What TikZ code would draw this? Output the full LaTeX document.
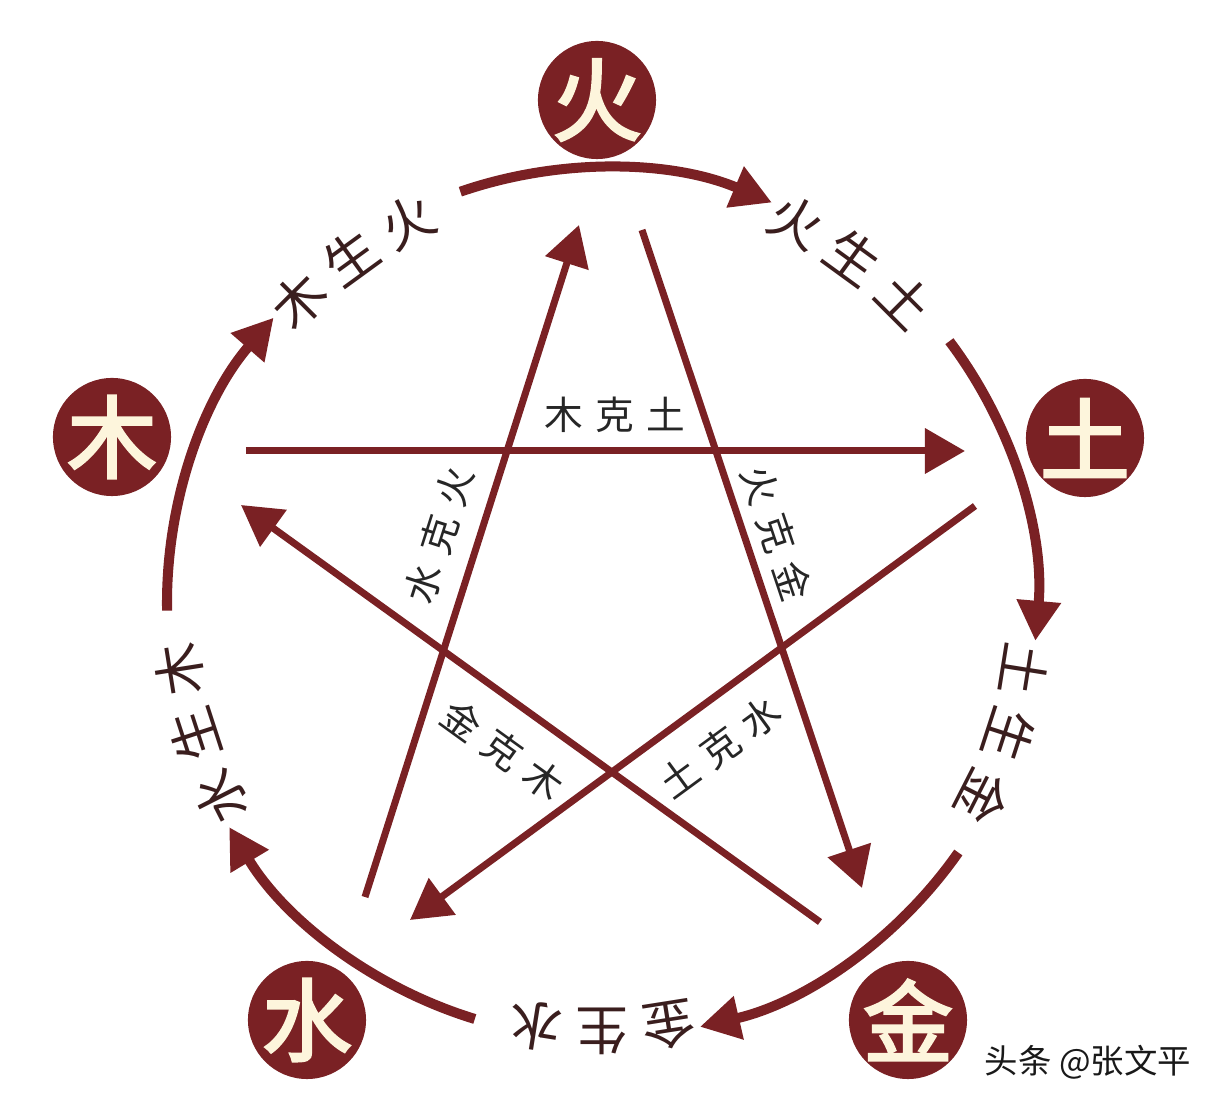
\documentclass[tikz,border=0pt]{standalone}
\usepackage{fontspec}
\usepackage{tikz}
\usetikzlibrary{arrows.meta}
\usepackage{xcolor}
\newfontfamily\cjk{Noto Sans CJK SC}
\newfontfamily\cjkbf{Noto Sans CJK SC}[FakeBold=3]
\definecolor{wxred}{RGB}{122,33,36}
\definecolor{wxcream}{RGB}{253,245,220}
\definecolor{wxink}{RGB}{58,30,30}
\newcommand\kgap{\hspace{.12cm}}

\begin{document}
\begin{tikzpicture}[x=.01cm,y=.01cm,
    el/.style={circle,fill=wxred,minimum size=1.18cm,inner sep=0pt},
    elt/.style={inner sep=0pt,text=wxcream,font=\cjkbf\fontsize{25.5}{25.5}\selectfont},
    ring/.style={-{Triangle[length=.4cm,width=.42cm]},line width=.1cm,wxred},
    ke/.style={-{Triangle[length=.4cm,width=.44cm]},line width=.07cm,wxred},
    rc/.style={inner sep=0pt,text=wxink,font=\cjk\fontsize{15}{15}\selectfont},
    kl/.style={inner sep=0pt,text=black!85,font=\cjk\fontsize{11}{11}\selectfont}
  ]
    \useasboundingbox (-602,-503) rectangle (612,603);
    \node[el,label={[elt]center:火}] (huo) at (-5,503) {}; \node[el,label={[elt]center:土}] (tu) at (483,165) {};
    \node[el,label={[elt]center:金}] (jin) at (306,-417) {}; \node[el,label={[elt]center:水}] (shui) at (-295,-417) {};
    \node[el,label={[elt]center:木}] (mu) at (-490,166) {};
    \foreach \a/\n in {90/huo,18/tu,-54/jin,-126/shui,162/mu} {
      \coordinate (r\n) at ({\a+19}:435);
      \draw[ring] (r\n) arc[start angle=\a+19,end angle=\a-23,radius=435];
    }
    \foreach \m/\p/\q/\r [count=\k] in {126/木/生/火,54/火/生/土,-18/土/生/金,-90/金/生/水,-162/水/生/木} {
      \node[rc,rotate=\m-81] (s\k-1) at ({\m+9}:428) {\p};
      \node[rc,rotate=\m-90] (s\k-2) at (\m:428) {\q};
      \node[rc,rotate=\m-99] (s\k-3) at ({\m-9}:428) {\r};
    }
    \coordinate (mk0) at (-356,152); \coordinate (mk1) at (363,152);
    \coordinate (hk0) at (40,373); \coordinate (hk1) at (260,-285);
    \coordinate (tk0) at (373,97); \coordinate (tk1) at (-192,-317);
    \coordinate (sk0) at (-237,-294); \coordinate (sk1) at (-23,378);
    \coordinate (jk0) at (218,-319); \coordinate (jk1) at (-361,98);
    \foreach \s/\t in {mk0/mk1,hk0/hk1,tk0/tk1,sk0/sk1,jk0/jk1} {\draw[ke] (\s)--(\t);}
    \node[kl] (l1) at (13,188) {木\kgap 克\kgap 土};
    \node[kl,rotate=-71.5] (l2) at (175,70) {火\kgap 克\kgap 金};
    \node[kl,rotate=36.2] (l3) at (118,-144) {土\kgap 克\kgap 水};
    \node[kl,rotate=72.3] (l4) at (-163,68) {水\kgap 克\kgap 火};
    \node[kl,rotate=-35.8] (l5) at (-99,-147) {金\kgap 克\kgap 木};
    \node[font=\cjk\fontsize{9.5}{10}\selectfont,text=black!90] (wm) at (486,-459) {头条 @张文平};
  \end{tikzpicture}
\end{document}
